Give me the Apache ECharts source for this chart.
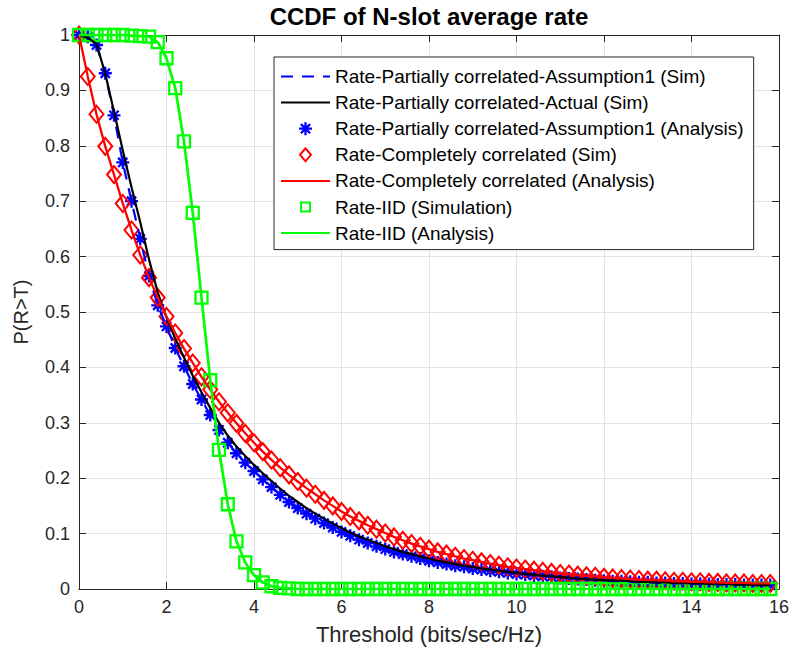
<!DOCTYPE html>
<html>
<head>
<meta charset="utf-8">
<script src="https://cdn.jsdelivr.net/npm/echarts@6/dist/echarts.min.js"></script>
<style>
  html, body { margin: 0; padding: 0; background: #fff; }
  #chart { width: 793px; height: 656px; }
</style>
</head>
<body>
<div id="chart"></div>
<script>
// threshold grid (bits/sec/Hz)
const thresholds = [
  0, 0.2, 0.4, 0.6, 0.8, 1.0, 1.2, 1.4, 1.6, 1.8,
  2.0, 2.2, 2.4, 2.6, 2.8, 3.0, 3.2, 3.4, 3.6, 3.8,
  4.0, 4.2, 4.4, 4.6, 4.8, 5.0, 5.2, 5.4, 5.6, 5.8,
  6.0, 6.2, 6.4, 6.6, 6.8, 7.0, 7.2, 7.4, 7.6, 7.8,
  8.0, 8.2, 8.4, 8.6, 8.8, 9.0, 9.2, 9.4, 9.6, 9.8,
  10.0, 10.2, 10.4, 10.6, 10.8, 11.0, 11.2, 11.4, 11.6, 11.8,
  12.0, 12.2, 12.4, 12.6, 12.8, 13.0, 13.2, 13.4, 13.6, 13.8,
  14.0, 14.2, 14.4, 14.6, 14.8, 15.0, 15.2, 15.4, 15.6, 15.8
]

// partially correlated, assumption 1 (sim line + analysis stars)
const partAssump = [
  1.000, 0.997, 0.982, 0.931, 0.855, 0.770, 0.700, 0.632, 0.565, 0.512,
  0.474, 0.435, 0.402, 0.370, 0.342, 0.314, 0.287, 0.264, 0.245, 0.228,
  0.213, 0.198, 0.184, 0.170, 0.157, 0.146, 0.136, 0.127, 0.119, 0.111,
  0.103, 0.096, 0.089, 0.083, 0.077, 0.072, 0.067, 0.063, 0.059, 0.055,
  0.051, 0.048, 0.045, 0.042, 0.040, 0.037, 0.035, 0.033, 0.031, 0.029,
  0.027, 0.026, 0.024, 0.023, 0.022, 0.020, 0.019, 0.018, 0.017, 0.016,
  0.015, 0.014, 0.014, 0.013, 0.012, 0.012, 0.011, 0.011, 0.010, 0.010,
  0.009, 0.009, 0.009, 0.008, 0.008, 0.008, 0.007, 0.007, 0.007, 0.007
]

// partially correlated, actual (sim)
const partActual = [
  1.000, 0.995, 0.984, 0.930, 0.862, 0.792, 0.725, 0.662, 0.595, 0.535,
  0.490, 0.452, 0.418, 0.385, 0.355, 0.327, 0.300, 0.277, 0.257, 0.240,
  0.224, 0.209, 0.195, 0.181, 0.168, 0.157, 0.146, 0.136, 0.127, 0.118,
  0.110, 0.102, 0.095, 0.089, 0.083, 0.077, 0.072, 0.067, 0.063, 0.059,
  0.055, 0.051, 0.048, 0.045, 0.042, 0.040, 0.037, 0.035, 0.033, 0.031,
  0.029, 0.027, 0.026, 0.024, 0.023, 0.022, 0.020, 0.019, 0.018, 0.017,
  0.016, 0.015, 0.015, 0.014, 0.013, 0.013, 0.012, 0.012, 0.011, 0.011,
  0.010, 0.010, 0.009, 0.009, 0.009, 0.008, 0.008, 0.008, 0.007, 0.007
]

// completely correlated (sim diamonds + analysis line)
const complete = [
  1.000, 0.925, 0.857, 0.799, 0.748, 0.696, 0.648, 0.603, 0.562, 0.526,
  0.492, 0.462, 0.434, 0.408, 0.383, 0.360, 0.338, 0.318, 0.299, 0.281,
  0.264, 0.248, 0.233, 0.219, 0.206, 0.194, 0.182, 0.171, 0.160, 0.150,
  0.140, 0.131, 0.123, 0.115, 0.108, 0.101, 0.094, 0.088, 0.082, 0.077,
  0.072, 0.067, 0.063, 0.059, 0.055, 0.052, 0.049, 0.046, 0.043, 0.040,
  0.038, 0.036, 0.034, 0.032, 0.030, 0.028, 0.027, 0.025, 0.024, 0.023,
  0.021, 0.020, 0.019, 0.018, 0.017, 0.016, 0.016, 0.015, 0.014, 0.014,
  0.013, 0.013, 0.012, 0.012, 0.011, 0.011, 0.011, 0.010, 0.010, 0.010
]

// IID (simulation squares + analysis line)
const iid = [
  1.000, 1.000, 1.000, 1.000, 1.000, 1.000, 0.999, 0.998, 0.997, 0.987,
  0.958, 0.904, 0.808, 0.679, 0.526, 0.377, 0.251, 0.153, 0.086, 0.048,
  0.025, 0.012, 0.005, 0.002, 0.001, 0, 0, 0, 0, 0,
  0, 0, 0, 0, 0, 0, 0, 0, 0, 0,
  0, 0, 0, 0, 0, 0, 0, 0, 0, 0,
  0, 0, 0, 0, 0, 0, 0, 0, 0, 0,
  0, 0, 0, 0, 0, 0, 0, 0, 0, 0,
  0, 0, 0, 0, 0, 0, 0, 0, 0, 0
]

const seriesNames = [
  'Rate-Partially correlated-Assumption1 (Sim)',
  'Rate-Partially correlated-Actual (Sim)',
  'Rate-Partially correlated-Assumption1 (Analysis)',
  'Rate-Completely correlated (Sim)',
  'Rate-Completely correlated (Analysis)',
  'Rate-IID (Simulation)',
  'Rate-IID (Analysis)'
]

const FONT = '"Liberation Sans", Helvetica, Arial, sans-serif'
const AXIS_COLOR = '#262626'

// matlab-like '*' marker, filled bars
const starPath = 'path://M8.2 0L11.8 0L11.8 20L8.2 20Z M0 8.2L20 8.2L20 11.8L0 11.8Z M4.2 1.66L18.34 15.8L15.8 18.34L1.66 4.2Z M18.34 4.2L4.2 18.34L1.66 15.8L15.8 1.66Z'
const diamondIcon = 'path://M5.5 0L11 6.5L5.5 13L0 6.5Z'
const squareIcon = 'path://M0 0M13 13M2 2L11 2L11 11L2 11Z'

// line entries: hide the dot echarts puts in the middle of the line icon
const lineOnly = { color: 'transparent', borderWidth: 0 }

const pairs = (ys) => thresholds.map((x, i) => [x, ys[i]])

const chart = echarts.init(document.getElementById('chart'), null, { renderer: 'svg' })

const axisCommon = {
  type: 'value',
  axisLine: { show: true, onZero: false, lineStyle: { color: AXIS_COLOR, width: 1 } },
  axisTick: { show: true, inside: true, length: 7, lineStyle: { color: AXIS_COLOR } },
}

const option = {
  animation: false,
  backgroundColor: '#fff',
  textStyle: { fontFamily: FONT },
  title: {
    text: 'CCDF of N-slot average rate',
    left: 429,
    top: 4,
    textAlign: 'center',
    padding: 0,
    textStyle: { fontSize: 24, fontWeight: 'bold', color: '#000', fontFamily: FONT },
  },
  grid: { left: 79, right: 14, top: 35, bottom: 67, containLabel: false },
  legend: {
    orient: 'vertical',
    left: 274,
    top: 57,
    backgroundColor: '#fff',
    borderColor: AXIS_COLOR,
    borderWidth: 1,
    borderRadius: 0,
    padding: [10, 10, 7, 6],
    itemWidth: 49,
    itemHeight: 13,
    itemGap: 7.1,
    textStyle: { fontSize: 19, color: '#000', fontFamily: FONT },
    data: [
      { name: seriesNames[0], itemStyle: lineOnly },
      { name: seriesNames[1], itemStyle: lineOnly },
      { name: seriesNames[2], icon: starPath, itemStyle: { color: '#0000ff', borderWidth: 0 } },
      { name: seriesNames[3], icon: diamondIcon, itemStyle: { color: 'transparent', borderColor: '#ff0000', borderWidth: 2 } },
      { name: seriesNames[4], itemStyle: lineOnly },
      { name: seriesNames[5], icon: squareIcon, itemStyle: { color: 'transparent', borderColor: '#00ff00', borderWidth: 2 } },
      { name: seriesNames[6], itemStyle: lineOnly },
    ],
  },
  xAxis: [
    {
      ...axisCommon,
      position: 'bottom',
      min: 0,
      max: 16,
      interval: 2,
      axisLabel: { color: AXIS_COLOR, fontSize: 18, margin: 9, fontFamily: FONT },
      splitLine: { show: true, lineStyle: { color: '#e3e3e3', width: 1 } },
      name: 'Threshold (bits/sec/Hz)',
      nameLocation: 'middle',
      nameGap: 34,
      nameTextStyle: { fontSize: 22, color: AXIS_COLOR, fontFamily: FONT },
    },
    {
      ...axisCommon,
      position: 'top',
      min: 0,
      max: 16,
      interval: 2,
      axisLabel: { show: false },
      splitLine: { show: false },
    },
  ],
  yAxis: [
    {
      ...axisCommon,
      position: 'left',
      min: 0,
      max: 1,
      interval: 0.1,
      axisLabel: { color: AXIS_COLOR, fontSize: 18, margin: 9, fontFamily: FONT },
      splitLine: { show: true, lineStyle: { color: '#e3e3e3', width: 1 } },
      name: 'P(R>T)',
      nameLocation: 'middle',
      nameGap: 48,
      nameTextStyle: { fontSize: 20, color: AXIS_COLOR, fontFamily: FONT },
    },
    {
      ...axisCommon,
      position: 'right',
      min: 0,
      max: 1,
      interval: 0.1,
      axisLabel: { show: false },
      splitLine: { show: false },
    },
  ],
  series: [
    {
      name: seriesNames[0],
      type: 'line',
      data: pairs(partAssump),
      symbol: 'none',
      lineStyle: { color: '#0000ff', width: 2.2, type: [12, 9] },
      itemStyle: { color: '#0000ff' },
    },
    {
      name: seriesNames[1],
      type: 'line',
      data: pairs(partActual),
      symbol: 'none',
      lineStyle: { color: '#000000', width: 2.2 },
      itemStyle: { color: '#000000' },
    },
    {
      name: seriesNames[2],
      type: 'scatter',
      data: pairs(partAssump),
      symbol: starPath,
      symbolSize: 13,
      itemStyle: { color: '#0000ff', opacity: 1 },
    },
    {
      name: seriesNames[3],
      type: 'scatter',
      data: pairs(complete),
      symbol: 'diamond',
      symbolSize: [14, 17],
      itemStyle: { color: 'transparent', borderColor: '#ff0000', borderWidth: 2, opacity: 1 },
    },
    {
      name: seriesNames[4],
      type: 'line',
      data: pairs(complete),
      symbol: 'none',
      lineStyle: { color: '#ff0000', width: 2.3 },
      itemStyle: { color: '#ff0000' },
    },
    {
      name: seriesNames[5],
      type: 'scatter',
      data: pairs(iid),
      symbol: 'rect',
      symbolSize: 12,
      itemStyle: { color: 'transparent', borderColor: '#00ff00', borderWidth: 2.3, opacity: 1 },
    },
    {
      name: seriesNames[6],
      type: 'line',
      data: pairs(iid),
      symbol: 'none',
      lineStyle: { color: '#00ff00', width: 2.7 },
      itemStyle: { color: '#00ff00' },
    },
  ],
}

chart.setOption(option)
</script>
</body>
</html>
